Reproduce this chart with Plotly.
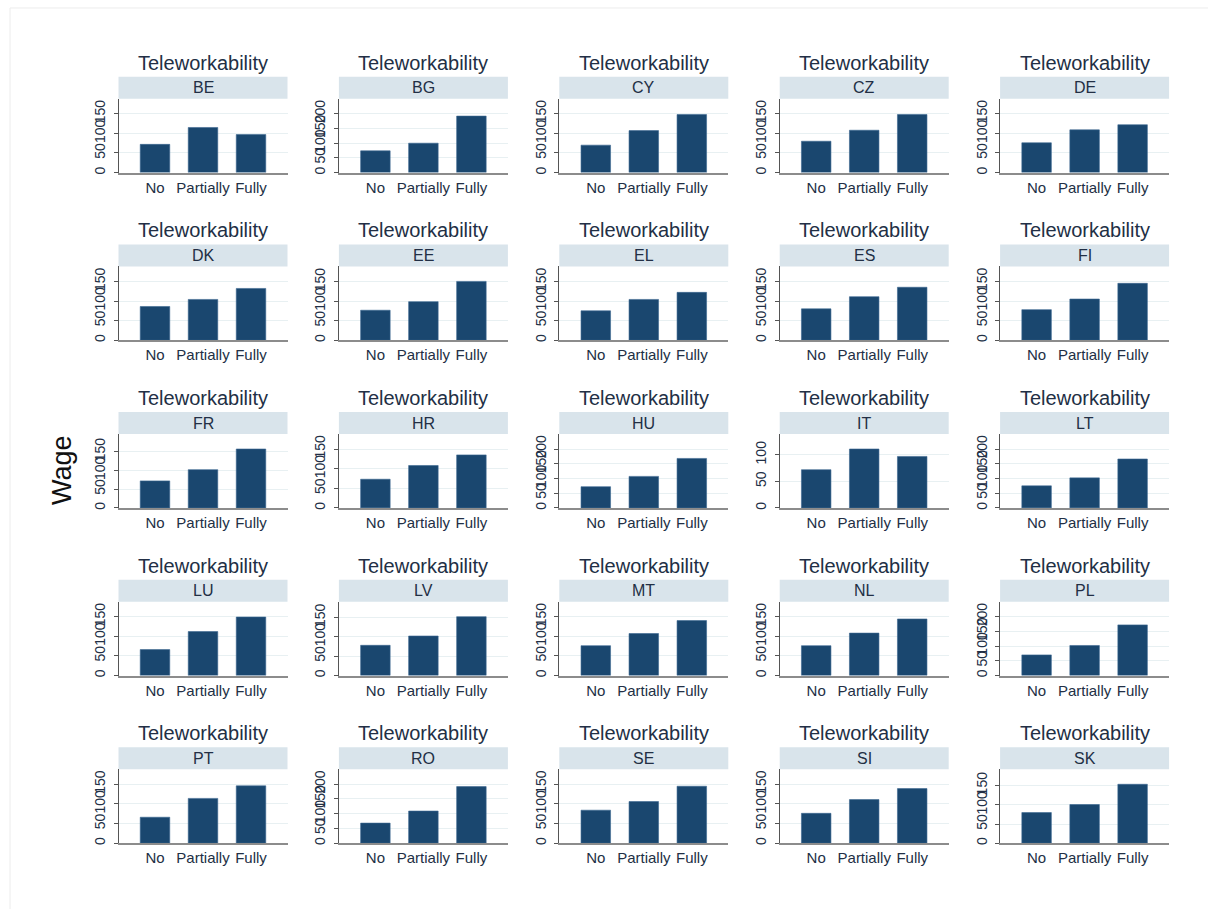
import plotly.graph_objects as go

# Mean wage by teleworkability class, one panel per country
countries = ["BE", "BG", "CY", "CZ", "DE",
             "DK", "EE", "EL", "ES", "FI",
             "FR", "HR", "HU", "IT", "LT",
             "LU", "LV", "MT", "NL", "PL",
             "PT", "RO", "SE", "SI", "SK"]
categories = ["No", "Partially", "Fully"]
wage_no = [72, 74, 70, 80, 76,
           86, 77, 75, 80, 78,
           72, 73, 72, 72, 75,
           66, 78, 76, 76, 70,
           66, 68, 84, 76, 80]
wage_partially = [115, 100, 107, 108, 109,
                  104, 99, 104, 111, 105,
                  102, 108, 107, 111, 102,
                  112, 102, 107, 108, 102,
                  114, 109, 106, 111, 101]
wage_fully = [97, 192, 148, 148, 122,
              132, 151, 122, 135, 145,
              157, 135, 168, 97, 166,
              149, 152, 140, 144, 172,
              146, 192, 145, 139, 154]
# highest labelled y tick in each panel
tick_top = [150, 200, 150, 150, 150,
            150, 150, 150, 150, 150,
            150, 150, 200, 100, 200,
            150, 150, 150, 150, 200,
            150, 200, 150, 150, 150]

W, H = 1208, 909
COL_LEFT, COL_STEP, PANEL_W = 118.5, 220.4, 169
ROW_TOP, ROW_STEP, PLOT_H = 99, 168, 74
STRIP_H = 22
DATA_H = 59  # height used by data below the top inner margin

BAR = "#1a476f"
STRIP = "#d9e4eb"
GRID = "#e8f0f2"
TEXT = "#222f45"
FONT = "Liberation Sans, Arial, sans-serif"

fig = go.Figure()
layout = {}
shapes = []
annotations = []

for i, code in enumerate(countries):
    r, c = divmod(i, 5)
    x0 = COL_LEFT + c * COL_STEP
    x1 = x0 + PANEL_W
    y_top = ROW_TOP + r * ROW_STEP
    y_bot = y_top + PLOT_H
    sfx = "" if i == 0 else str(i + 1)

    vals = [wage_no[i], wage_partially[i], wage_fully[i]]
    fig.add_trace(go.Bar(
        x=categories, y=vals,
        xaxis="x" + sfx, yaxis="y" + sfx,
        marker=dict(color=BAR, line=dict(color="#3b6690", width=0.6)),
        showlegend=False,
    ))

    ymax = max(tick_top[i], max(vals)) * PLOT_H / DATA_H
    layout["xaxis" + sfx] = dict(
        domain=[x0 / W, x1 / W], anchor="y" + sfx,
        type="category", range=[-0.76, 2.76],
        showline=True, linecolor="#8c8c8c", linewidth=2,
        ticks="", showgrid=False, zeroline=False,
        tickfont=dict(family=FONT, size=15, color=TEXT),
        fixedrange=True,
    )
    layout["yaxis" + sfx] = dict(
        domain=[1 - y_bot / H, 1 - y_top / H], anchor="x" + sfx,
        range=[0, ymax],
        tickvals=list(range(0, tick_top[i] + 1, 50)),
        tickangle=-90,
        tickfont=dict(family=FONT, size=14, color=TEXT),
        ticks="outside", ticklen=4, tickcolor="#555555",
        ticklabelstandoff=3,
        showline=True, linecolor="#555555", linewidth=1,
        showgrid=True, gridcolor=GRID, gridwidth=1,
        zeroline=False, fixedrange=True,
    )

    # panel header strip with the country code
    shapes.append(dict(
        type="rect", xref="paper", yref="paper",
        x0=x0 / W, x1=x1 / W,
        y0=1 - y_top / H, y1=1 - (y_top - STRIP_H) / H,
        fillcolor=STRIP, line=dict(width=0), layer="below",
    ))
    annotations.append(dict(
        text=code, xref="paper", yref="paper",
        x=(x0 + x1) / 2 / W, y=1 - (y_top - STRIP_H / 2) / H,
        xanchor="center", yanchor="middle", showarrow=False,
        font=dict(family=FONT, size=16, color=TEXT),
    ))
    annotations.append(dict(
        text="Teleworkability", xref="paper", yref="paper",
        x=(x0 + x1) / 2 / W, y=1 - (y_top - 36) / H,
        xanchor="center", yanchor="middle", showarrow=False,
        font=dict(family=FONT, size=20, color=TEXT),
    ))

annotations.append(dict(
    text="Wage", xref="paper", yref="paper",
    x=62 / W, y=1 - 471 / H, textangle=-90,
    xanchor="center", yanchor="middle", showarrow=False,
    font=dict(family=FONT, size=27, color="#111111"),
))

# faint outer frame of the graph area
shapes.append(dict(
    type="rect", xref="paper", yref="paper",
    x0=10 / W, x1=1.01, y0=-0.01, y1=1 - 8 / H,
    line=dict(color="#ececec", width=1), fillcolor="rgba(0,0,0,0)",
    layer="below",
))

fig.update_layout(
    width=W, height=H,
    margin=dict(l=0, r=0, t=0, b=0),
    paper_bgcolor="white", plot_bgcolor="white",
    bargap=0.385,
    shapes=shapes, annotations=annotations,
    **layout,
)

fig.write_html("out.html")
